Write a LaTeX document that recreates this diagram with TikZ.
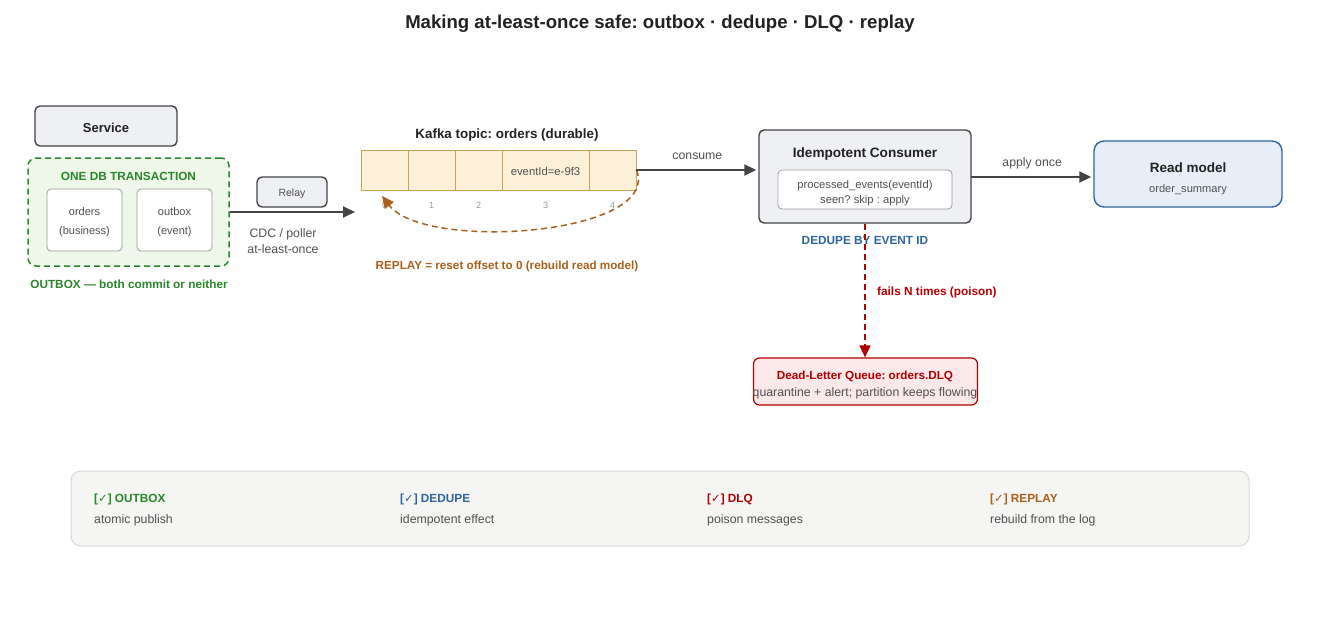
\documentclass[tikz,border=0pt]{standalone}
\usepackage{fontspec}
\setmainfont{Liberation Sans}
\newfontfamily\symfont{DejaVu Sans}
\usetikzlibrary{arrows.meta,positioning,calc}
\definecolor{ink}{HTML}{222222}
\definecolor{txt}{HTML}{505050}
\definecolor{edge}{HTML}{444444}
\definecolor{boxgray}{HTML}{EEF0F3}
\definecolor{grn}{HTML}{2A862A}
\definecolor{grnfill}{HTML}{EEF7EA}
\definecolor{blu}{HTML}{2E64A0}
\definecolor{blufill}{HTML}{E8EEF7}
\definecolor{rd}{HTML}{B00000}
\definecolor{rdfill}{HTML}{FBE8E8}
\definecolor{brn}{HTML}{A8601C}
\definecolor{cellfill}{HTML}{FDF0D8}
\definecolor{celledge}{HTML}{C9A15E}
\definecolor{panelfill}{HTML}{F5F5F3}
\definecolor{paneledge}{HTML}{D8D8D8}
\definecolor{lite}{HTML}{999999}
\newcommand{\fs}[1]{\fontsize{#1}{#1}\selectfont}
\newcommand{\fsl}[2]{\fontsize{#1}{#2}\selectfont}
\newcommand{\ck}{{\symfont\bfseries\fontsize{11.5}{11.5}\selectfont ✓}}
\frenchspacing
\tikzset{
  graybox/.style={draw=edge, fill=boxgray, line width=1.4pt, rounded corners=5pt, inner sep=0pt},
  whitebox/.style={draw=lite, fill=white, line width=0.8pt, rounded corners=4pt, inner sep=0pt},
  cellbox/.style={draw=celledge, fill=cellfill, line width=0.9pt, inner sep=0pt, minimum height=40pt},
  flow/.style={draw=edge, line width=1.8pt, -{Triangle[length=12pt,width=11pt]}},
  plain/.style={inner sep=0pt, align=center},
  idx/.style={text=lite, font=\fs{9}, inner sep=0pt},
}
\begin{document}
\begin{tikzpicture}[x=1pt,y=-1pt]
\useasboundingbox (0,0) rectangle (1320,637);
% title
\node[plain, font=\bfseries\fs{18.6}, text=ink] (title) at (660,24) {Making at-least-once safe: outbox · dedupe · DLQ · replay};

% service side
\node[graybox, minimum width=142pt, minimum height=40pt] (service) at (106,126) {};
\node[plain, font=\bfseries\fs{13}, text=ink] (servicet) at (106,128) {Service};
\node[draw=grn, fill=grnfill, dash pattern=on 6pt off 4pt, line width=1.5pt, rounded corners=8pt, minimum width=201pt, minimum height=108pt, inner sep=0pt] (tx) at (128.5,212) {};
\node[plain, font=\bfseries\fs{11.8}, text=grn] (txtitle) at (128.5,176) {ONE DB TRANSACTION};
\node[whitebox, minimum width=75pt, minimum height=62pt] (orders) at (84.5,220) {};
\node[plain, font=\fsl{11}{19}, text=txt] (orderst) at (84.5,222) {orders\\(business)};
\node[whitebox, minimum width=75pt, minimum height=62pt] (outbox) at (174.5,220) {};
\node[plain, font=\fsl{11}{19}, text=txt] (outboxt) at (174.5,222) {outbox\\(event)};
\node[plain, font=\bfseries\fs{11.8}, text=grn] (txnote) at (129,284) {OUTBOX — both commit or neither};

% relay
\node[graybox, minimum width=70pt, minimum height=30pt] (relay) at (292,192) {};
\node[plain, font=\fs{10.5}, text=txt] (relayt) at (292,194) {Relay};
\coordinate (relayend) at (355,212);
\draw[flow] (tx.east |- relayend) -- (relayend);
\node[plain, text=txt, font=\fsl{12.3}{16}] (cdc) at (283,241) {CDC / poller\\at-least-once};

% topic
\node[plain, font=\bfseries\fs{13.4}, text=ink] (topic) at (507,135) {Kafka topic: orders (durable)};
\node[cellbox, minimum width=47pt] (c0) at (384.5,170) {};
\node[cellbox, minimum width=47pt] (c1) at (431.5,170) {};
\node[cellbox, minimum width=47pt] (c2) at (478.5,170) {};
\node[cellbox, minimum width=87pt] (c3) at (545.5,170) {};
\node[plain, font=\fs{11.3}, text=txt] (c3t) at (545.5,171) {eventId=e-9f3};
\node[cellbox, minimum width=47pt] (c4) at (612.5,170) {};
\node[idx] (i0) at (384.5,205) {0};
\node[idx] (i1) at (431.5,205) {1};
\node[idx] (i2) at (478.5,205) {2};
\node[idx] (i3) at (545.5,205) {3};
\node[idx] (i4) at (612.5,205) {4};
\coordinate (replayend) at (382,196);
\draw[draw=brn, line width=1.5pt, dash pattern=on 6pt off 4pt, -{Triangle[length=12pt,width=11pt]}]
  (c4.east) .. controls (662,235) and (425,252) .. (replayend);
\node[plain, font=\bfseries\fs{11.7}, text=brn] (replay) at (507,266) {REPLAY = reset offset to 0 (rebuild read model)};

% consumer
\node[graybox, minimum width=212pt, minimum height=93pt] (consumer) at (865,176.5) {};
\node[plain, font=\bfseries\fs{13.6}, text=ink] (ctitle) at (865,154) {Idempotent Consumer};
\node[whitebox, minimum width=174pt, minimum height=39pt] (seen) at (865,189.5) {};
\node[plain, font=\fsl{11.2}{15}, text=txt] (seent) at (865,193) {processed\_events(eventId)\\seen? skip : apply};
\draw[flow, shorten >=2pt] (c4.east) -- (c4.east -| consumer.west)
  node[midway, anchor=base, yshift=11pt, plain, font=\fs{12.3}, text=txt] (consumelbl) {consume};

% read model
\node[draw=blu, fill=blufill, line width=1.4pt, rounded corners=10pt, minimum width=188pt, minimum height=66pt, inner sep=0pt] (read) at (1188,174) {};
\node[plain, font=\bfseries\fs{13.5}, text=ink] (rtitle) at (1188,168) {Read model};
\node[plain, font=\fs{11.1}, text=txt] (rsub) at (1188,190) {order\_summary};
\coordinate (applystart) at (971,177);
\draw[flow, shorten >=2pt] (applystart) -- (applystart -| read.west)
  node[midway, anchor=base, yshift=11pt, plain, font=\fs{12.3}, text=txt] (applylbl) {apply once};

% DLQ
\node[plain, font=\bfseries\fs{11.8}, text=blu] (dedupe) at (865,240) {DEDUPE BY EVENT ID};
\node[draw=rd, fill=rdfill, line width=1.2pt, rounded corners=6pt, minimum width=224pt, minimum height=47pt, inner sep=0pt] (dlq) at (865.5,381.5) {};
\node[plain, font=\bfseries\fs{11.7}, text=rd] (dlqt) at (865,376) {Dead-Letter Queue: orders.DLQ};
\node[plain, font=\fs{12.3}, text=txt] (dlqs) at (865,393) {quarantine + alert; partition keeps flowing};
\draw[draw=rd, line width=1.6pt, dash pattern=on 6pt off 4pt, -{Triangle[length=12pt,width=11pt]}] (consumer.south) -- (consumer.south |- dlq.north);
\node[plain, font=\bfseries\fs{11.8}, text=rd, anchor=west] (fails) at (877,292) {fails N times (poison)};

% bottom panel
\node[draw=paneledge, fill=panelfill, line width=1pt, rounded corners=10pt, minimum width=1178pt, minimum height=75pt, inner sep=0pt] (panel) at (660,508.5) {};
\node[plain, anchor=west, font=\bfseries\fs{11.8}, text=grn] (h1) at (94,499) {[\ck] OUTBOX};
\node[plain, anchor=west, font=\fs{12.3}, text=txt] (s1) at (94,520) {atomic publish};
\node[plain, anchor=west, font=\bfseries\fs{11.8}, text=blu] (h2) at (400,499) {[\ck] DEDUPE};
\node[plain, anchor=west, font=\fs{12.3}, text=txt] (s2) at (400,520) {idempotent effect};
\node[plain, anchor=west, font=\bfseries\fs{11.8}, text=rd] (h3) at (707,499) {[\ck] DLQ};
\node[plain, anchor=west, font=\fs{12.3}, text=txt] (s3) at (707,520) {poison messages};
\node[plain, anchor=west, font=\bfseries\fs{11.8}, text=brn] (h4) at (990,499) {[\ck] REPLAY};
\node[plain, anchor=west, font=\fs{12.3}, text=txt] (s4) at (990,520) {rebuild from the log};
\end{tikzpicture}
\end{document}
